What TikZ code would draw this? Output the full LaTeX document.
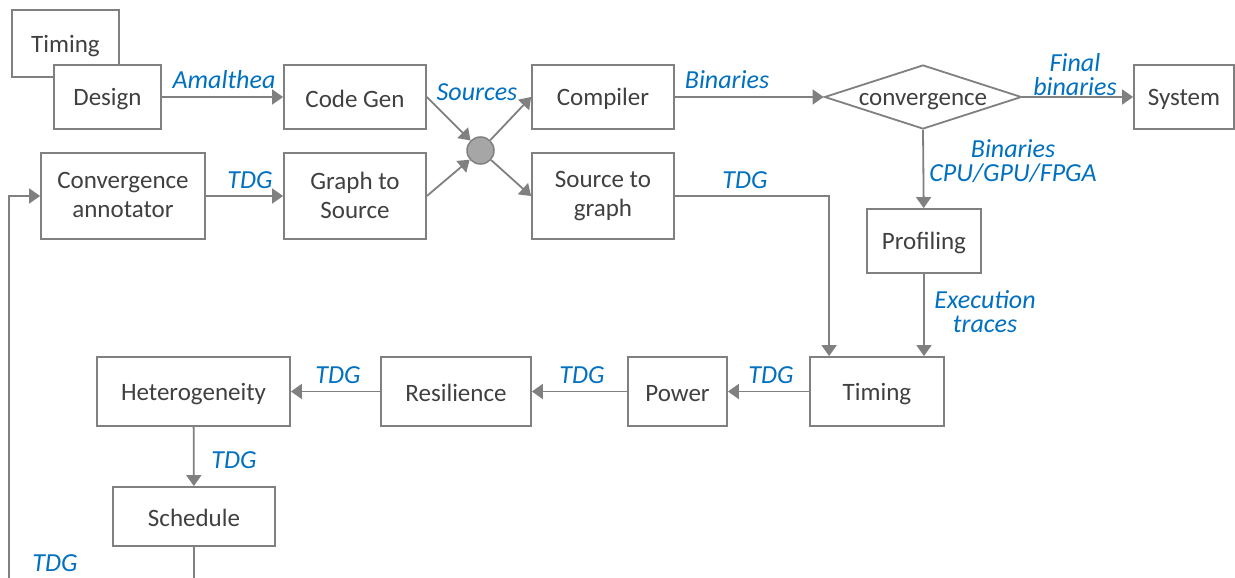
\documentclass[tikz,border=0pt]{standalone}
\usepackage{fontspec}
\setmainfont{Carlito}
\usetikzlibrary{arrows.meta,shapes.geometric}
\definecolor{linegray}{HTML}{808080}
\definecolor{textgray}{HTML}{404040}
\definecolor{labelblue}{HTML}{0070C0}
\definecolor{dotgray}{HTML}{A6A6A6}
% struts that set the text height in boxes and labels
\newcommand\onestrut{\rule[-2pt]{0pt}{24pt}}
\newcommand\twostrut{\rule[-2.2pt]{0pt}{22pt}}
\newcommand\lblstrut{\rule[-7.2pt]{0pt}{24pt}}

\begin{document}
\begin{tikzpicture}[x=1pt,y=-1pt,
  boxbase/.style={draw=linegray, line width=1.8pt, fill=white, text=textgray,
    font=\fontsize{25}{29}\selectfont, align=center, inner sep=0pt},
  box/.style={boxbase,
    execute at begin node=\onestrut, execute at end node=\onestrut},
  box2/.style={boxbase,
    execute at begin node=\twostrut, execute at end node=\twostrut},
  lbl/.style={text=labelblue, font=\fontsize{26}{24}\selectfont\itshape,
    align=center, inner sep=0pt,
    execute at begin node=\lblstrut, execute at end node=\lblstrut},
  flow/.style={draw=linegray, line width=1.8pt,
    -{Triangle[length=11pt,width=15pt]}},
  decision/.style={diamond, draw=linegray, line width=1.8pt, fill=white,
    text=textgray, font=\fontsize{25}{30}\selectfont, inner sep=0pt,
    aspect=3.08, minimum width=197pt, minimum height=64pt,
    text height=17pt, text depth=0pt},
]
\clip (0,0) rectangle (1235,578);
\fill[white] (0,0) rectangle (1235,578);

% top row
\node[box, minimum width=107pt, minimum height=67pt] (timing1) at (65.5,43.5) {Timing};
\node[box, minimum width=107pt, minimum height=64pt] (design) at (107.5,97) {Design};
\node[box, minimum width=142pt, minimum height=64pt] (codegen) at (355,97) {Code Gen};
\node[box, minimum width=142pt, minimum height=64pt] (compiler) at (603,97) {Compiler};
\node[decision] (conv) at (923,97) {convergence};
\node[box, minimum width=100pt, minimum height=64pt] (system) at (1184,97) {System};

% second row
\node[box2, minimum width=164pt, minimum height=86pt] (annot) at (123,196) {Convergence\\annotator};
\node[box2, minimum width=142pt, minimum height=86pt] (g2s) at (355,196) {Graph to\\Source};
\node[box2, minimum width=142pt, minimum height=86pt] (s2g) at (603,196) {Source to\\graph};
\node[circle, draw=linegray, line width=1.5pt, fill=dotgray, minimum size=27pt, inner sep=0pt] (hub) at (480.5,150.5) {};
\node[box, minimum width=114pt, minimum height=64pt] (profiling) at (924,241) {Profiling};

% analysis chain
\node[box, minimum width=134pt, minimum height=69pt] (timing2) at (877,391.5) {Timing};
\node[box, minimum width=99pt, minimum height=69pt] (power) at (677.5,391.5) {Power};
\node[box, minimum width=150pt, minimum height=69pt] (resil) at (456,391.5) {Resilience};
\node[box, minimum width=193pt, minimum height=69pt] (hetero) at (193.5,391.5) {Heterogeneity};
\node[box, minimum width=162pt, minimum height=59pt] (schedule) at (194,516.5) {Schedule};

% feedback loop turning point (below the visible area)
\coordinate (loopbot) at (9,620);

% connectors
\draw[flow] (design) -- (codegen);
\draw[flow] (codegen.east) -- (hub);
\draw[flow] (g2s.east) -- (hub);
\draw[flow] (hub) -- (compiler.west);
\draw[flow] (hub) -- (s2g.west);
\draw[flow] (compiler) -- (conv);
\draw[flow] (conv) -- (system);
\draw[flow] (conv.south) -- (profiling);
\draw[flow] (profiling.south) -- (profiling.south |- timing2.north);
\draw[flow] (s2g.east) -| ([xshift=20pt]timing2.north west);
\draw[flow] (timing2) -- (power);
\draw[flow] (power) -- (resil);
\draw[flow] (resil) -- (hetero);
\draw[flow] (hetero) -- (schedule);
\draw[flow] (schedule.south) -- (schedule.south |- loopbot) -- (loopbot)
  -- (annot.west -| loopbot) -- (annot.west);
\draw[flow] (annot) -- (g2s);

% edge labels
\node[lbl] at (224,83.5) {Amalthea};
\node[lbl] at (477,96) {Sources};
\node[lbl] at (727,83.5) {Binaries};
\node[lbl] at (1075,78.5) {Final\\binaries};
\node[lbl] at (1013,164.5) {Binaries\\CPU/GPU/FPGA};
\node[lbl] at (985,315.5) {Execution\\traces};
\node[lbl] at (250,184) {TDG};
\node[lbl] at (745,184) {TDG};
\node[lbl] at (771,379) {TDG};
\node[lbl] at (582,379) {TDG};
\node[lbl] at (338,379) {TDG};
\node[lbl] at (234,464) {TDG};
\node[lbl] at (55,567) {TDG};
\end{tikzpicture}
\end{document}
